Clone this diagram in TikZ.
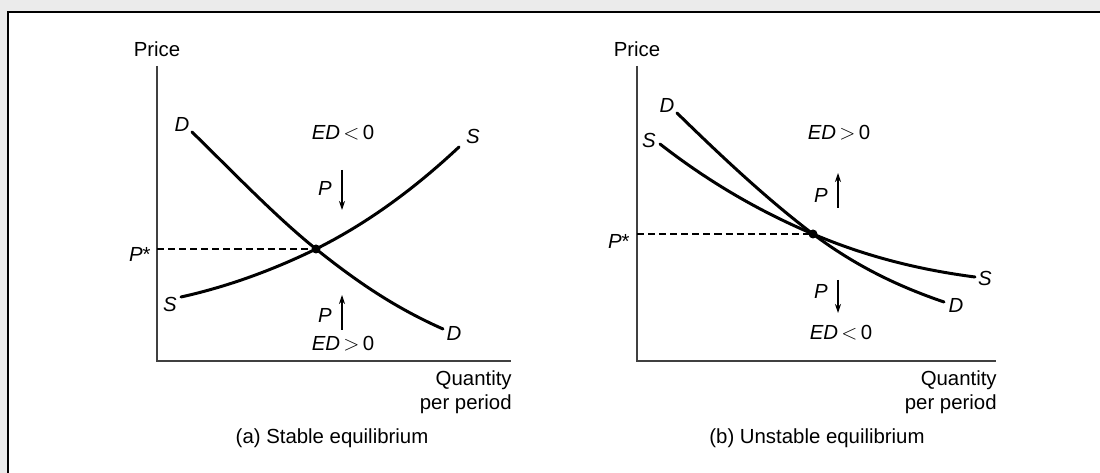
\documentclass[tikz,border=0pt]{standalone}
\usepackage{fontspec}
\setmainfont{Liberation Sans}
\usetikzlibrary{arrows.meta}
\begin{document}
\begin{tikzpicture}[x=0.02cm, y=0.02cm,
    every node/.style={font=\fontsize{11.6}{13.6}\selectfont, inner sep=0pt},
    curva/.style={line width=1.7pt, line cap=round},
    asse/.style={line width=0.85pt, black!75},
    tratt/.style={line width=0.7pt, dash pattern=on 4pt off 2.3pt},
    freccia/.style={line width=0.6pt, -{Stealth[length=1.8mm, width=1.2mm]}}]
  \useasboundingbox (0,0) rectangle (1100,473);
  % Sfondo e cornice
  \fill[black!8] (0,0) rectangle (1100,473);
  \fill[white] (8,0) rectangle (1100,461);
  \draw[line width=0.8pt] (8,0) -- (8,461) -- (1100,461);
  % Assi, etichette e didascalie dei due grafici
  \foreach \p/\ox/\xe/\cx/\testo in {a/157/511/332/{(a) Stable equilibrium},
                                     b/637/996/817/{(b) Unstable equilibrium}} {
    \coordinate (top\p) at (\ox,407);
    \coordinate (orig\p) at (\ox,112);
    \coordinate (end\p) at (\xe,112);
    \draw[asse] (top\p) -- (orig\p) -- (end\p);
    \node (price\p) at (\ox,424) {Price};
    \node[anchor=east, align=right] (qty\p) at (\xe+1,81) {Quantity\\per period};
    \node (cap\p) at (\cx,35) {\testo};
  }
  % (a) equilibrio stabile
  \coordinate (eqa) at (316,224);
  \coordinate (psa) at (157,224);
  \coordinate (Da1) at (192,341);
  \coordinate (Da2) at (443,144);
  \coordinate (Sa1) at (181,176);
  \coordinate (Sa2) at (459,326);
  \draw[tratt] (psa) -- (eqa);
  \draw[curva] (Da1) .. controls (232,302) and (276,256) .. (eqa)
    .. controls (361,188) and (398,164) .. (Da2);
  \draw[curva] (Sa1) .. controls (226,186) and (271,202) .. (eqa)
    .. controls (364,248) and (411,281) .. (Sa2);
  \fill (eqa) circle (4.5);
  \node[anchor=east] (pstara) at (151,219) {\textit{P}*};
  \node (lDa1) at (182,349) {\textit{D}};
  \node (lDa2) at (454,140) {\textit{D}};
  \node (lSa1) at (170,169) {\textit{S}};
  \node (lSa2) at (473,337) {\textit{S}};
  \node (edsa) at (343,340) {\textit{ED}\,$<$\,0};
  \node (edga) at (343,129) {\textit{ED}\,$>$\,0};
  \node (pdna) at (325,285) {\textit{P}};
  \node (pupa) at (325,158) {\textit{P}};
  \coordinate (fda1) at (342,303);
  \coordinate (fda2) at (342,263);
  \coordinate (fua1) at (342,143);
  \coordinate (fua2) at (342,178);
  \draw[freccia] (fda1) -- (fda2);
  \draw[freccia] (fua1) -- (fua2);
  % (b) equilibrio instabile
  \coordinate (eqb) at (813,239);
  \coordinate (psb) at (637,239);
  \coordinate (Db1) at (677,360);
  \coordinate (Db2) at (944,171);
  \coordinate (Sb1) at (660,329);
  \coordinate (Sb2) at (975,196);
  \draw[tratt] (psb) -- (eqb);
  \draw[curva] (Db1) .. controls (722,316) and (768,273) .. (eqb)
    .. controls (857,206) and (900,186) .. (Db2);
  \draw[curva] (Sb1) .. controls (710,290) and (761,261) .. (eqb)
    .. controls (867,216) and (921,203) .. (Sb2);
  \fill (eqb) circle (4.5);
  \node[anchor=east] (pstarb) at (630,232) {\textit{P}*};
  \node (lDb1) at (667,368) {\textit{D}};
  \node (lDb2) at (956,168) {\textit{D}};
  \node (lSb1) at (649,333) {\textit{S}};
  \node (lSb2) at (985,195) {\textit{S}};
  \node (edgb) at (839,340) {\textit{ED}\,$>$\,0};
  \node (edsb) at (841,140) {\textit{ED}\,$<$\,0};
  \node (pupb) at (821,278) {\textit{P}};
  \node (pdnb) at (821,182) {\textit{P}};
  \coordinate (fub1) at (838,265);
  \coordinate (fub2) at (838,300);
  \coordinate (fdb1) at (838,193);
  \coordinate (fdb2) at (838,160);
  \draw[freccia] (fub1) -- (fub2);
  \draw[freccia] (fdb1) -- (fdb2);
\end{tikzpicture}
\end{document}
